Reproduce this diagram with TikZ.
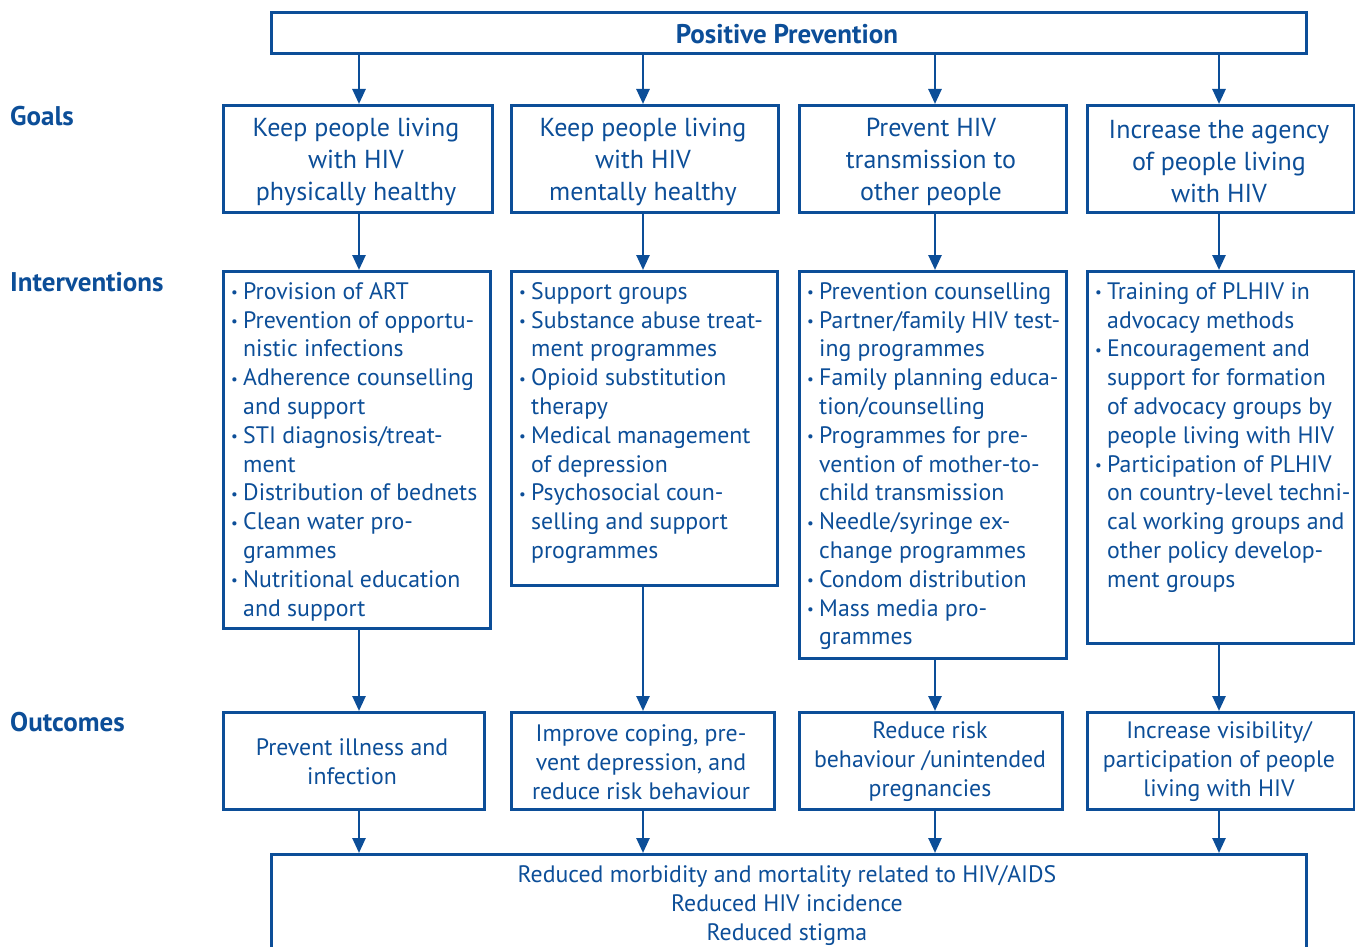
\documentclass[tikz,border=0pt]{standalone}
\usepackage{fontspec}
\setmainfont{PT Sans}
\usetikzlibrary{arrows.meta,calc}
\definecolor{hb}{RGB}{12,78,152}
\newcommand{\bu}[1]{\strut\makebox[12pt][l]{\raisebox{1.5pt}{\fontsize{15}{15}\selectfont •}}#1}
\newcommand{\nb}[1]{\strut\hspace*{12pt}#1}
\begin{document}
\begin{tikzpicture}[x=1pt,y=-1pt,
 box/.style={draw=hb,line width=2.6pt,anchor=north west,inner sep=0pt},
 arr/.style={draw=hb,line width=2.6pt,-{Triangle[length=15pt,width=13pt]}},
 gtext/.style={text=hb,align=center,inner sep=0pt,font=\fontsize{26}{32}\selectfont},
 itext/.style={text=hb,align=left,anchor=north west,inner sep=0pt,font=\fontsize{23.8}{28.8}\selectfont},
 otext/.style={text=hb,align=center,inner sep=0pt,font=\fontsize{23.8}{29}\selectfont},
 lab/.style={text=hb,anchor=west,inner sep=0pt,font=\fontsize{27}{30}\selectfont\bfseries}]
\clip (0,0) rectangle (1355,947);
% columns for arrows
\coordinate (c1) at (359,0);
\coordinate (c2) at (643,0);
\coordinate (c3) at (935,0);
\coordinate (c4) at (1219,0);
% boxes
\node[box,minimum width=1035pt,minimum height=41pt] (top) at (270,11) {};
\node[box,minimum width=269pt,minimum height=107pt] (g1) at (222,104) {};
\node[box,minimum width=267pt,minimum height=107pt] (g2) at (510,104) {};
\node[box,minimum width=267pt,minimum height=107pt] (g3) at (798,104) {};
\node[box,minimum width=267pt,minimum height=107pt] (g4) at (1086,104) {};
\node[box,minimum width=267pt,minimum height=357pt] (i1) at (222,270) {};
\node[box,minimum width=266pt,minimum height=314pt] (i2) at (510,270) {};
\node[box,minimum width=267pt,minimum height=387pt] (i3) at (798,270) {};
\node[box,minimum width=267pt,minimum height=372pt] (i4) at (1086,270) {};
\node[box,minimum width=261pt,minimum height=97pt] (o1) at (222,711) {};
\node[box,minimum width=263pt,minimum height=97pt] (o2) at (510,711) {};
\node[box,minimum width=263pt,minimum height=97pt] (o3) at (798,711) {};
\node[box,minimum width=267pt,minimum height=97pt] (o4) at (1086,711) {};
\node[box,minimum width=1035pt,minimum height=150pt] (bot) at (270,853) {};
% texts
\node[text=hb,inner sep=0pt,font=\fontsize{27}{30}\selectfont\bfseries] (toptext) at (787,34) {Positive Prevention};
\node[lab] (lgoals) at (10,116) {Goals};
\node[lab] (linter) at (10,282) {Interventions};
\node[lab] (lout) at (10,722) {Outcomes};
\node[gtext] (g1t) at (356,162) {Keep people living\\with HIV\\physically healthy};
\node[gtext] (g2t) at (643,162) {Keep people living\\with HIV\\mentally healthy};
\node[gtext] (g3t) at (931,162) {Prevent HIV\\transmission to\\other people};
\node[gtext] (g4t) at (1219,162) {Increase the agency\\of people living\\with HIV};
\node[itext] (i1t) at (231,279) {\bu{Provision of ART}\\\bu{Prevention of opportu-}\\\nb{nistic infections}\\\bu{Adherence counselling}\\\nb{and support}\\\bu{STI diagnosis/treat-}\\\nb{ment}\\\bu{Distribution of bednets}\\\bu{Clean water pro-}\\\nb{grammes}\\\bu{Nutritional education}\\\nb{and support}};
\node[itext] (i2t) at (519,279) {\bu{Support groups}\\\bu{Substance abuse treat-}\\\nb{ment programmes}\\\bu{Opioid substitution}\\\nb{therapy}\\\bu{Medical management}\\\nb{of depression}\\\bu{Psychosocial coun-}\\\nb{selling and support}\\\nb{programmes}};
\node[itext] (i3t) at (807,279) {\bu{Prevention counselling}\\\bu{Partner/family HIV test-}\\\nb{ing programmes}\\\bu{Family planning educa-}\\\nb{tion/counselling}\\\bu{Programmes for pre-}\\\nb{vention of mother-to-}\\\nb{child transmission}\\\bu{Needle/syringe ex-}\\\nb{change programmes}\\\bu{Condom distribution}\\\bu{Mass media pro-}\\\nb{grammes}};
\node[itext] (i4t) at (1095,279) {\bu{Training of PLHIV in}\\\nb{advocacy methods}\\\bu{Encouragement and}\\\nb{support for formation}\\\nb{of advocacy groups by}\\\nb{people living with HIV}\\\bu{Participation of PLHIV}\\\nb{on country-level techni-}\\\nb{cal working groups and}\\\nb{other policy develop-}\\\nb{ment groups}};
\node[otext] (o1t) at (352,762) {Prevent illness and\\infection};
\node[otext] (o2t) at (641,762) {Improve coping, pre-\\vent depression, and\\reduce risk behaviour};
\node[otext] (o3t) at (930,762) {Reduce risk\\behaviour /unintended\\pregnancies};
\node[otext] (o4t) at (1219,762) {Increase visibility/\\participation of people\\living with HIV};
\node[otext] (bott) at (787,906) {Reduced morbidity and mortality related to HIV/AIDS\\Reduced HIV incidence\\Reduced stigma};
% arrows
\foreach \g/\i/\o/\c in {g1/i1/o1/c1,g2/i2/o2/c2,g3/i3/o3/c3,g4/i4/o4/c4}{
  \draw[arr] (top.south -| \c) -- (\g.north -| \c);
  \draw[arr] (\g.south -| \c) -- (\i.north -| \c);
  \draw[arr] (\i.south -| \c) -- (\o.north -| \c);
  \draw[arr] (\o.south -| \c) -- (bot.north -| \c);
}
\end{tikzpicture}
\end{document}
